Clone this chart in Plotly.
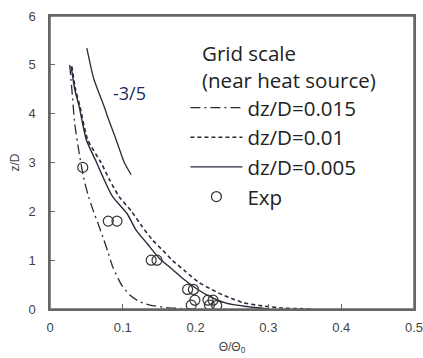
import plotly.graph_objects as go

# --- data ---
dd_x = [0.027, 0.030, 0.034, 0.040, 0.046, 0.052, 0.059, 0.066, 0.0725, 0.080, 0.086, 0.098, 0.110, 0.123, 0.137, 0.160, 0.180, 0.200]
dd_z = [5.0, 4.5, 3.8, 3.2, 2.7, 2.35, 2.03, 1.75, 1.48, 1.15, 0.87, 0.5, 0.28, 0.15, 0.08, 0.03, 0.01, 0.0]

d1_x = [0.030, 0.035, 0.041, 0.052, 0.070, 0.082, 0.095, 0.112, 0.126, 0.141, 0.155, 0.168, 0.186, 0.204, 0.222, 0.237, 0.252, 0.265, 0.288, 0.320, 0.360]
d1_z = [4.97, 4.5, 4.15, 3.46, 3.0, 2.64, 2.3, 2.0, 1.7, 1.41, 1.2, 1.0, 0.77, 0.55, 0.4, 0.29, 0.2, 0.13, 0.07, 0.02, 0.0]

d05_x = [0.029, 0.034, 0.040, 0.050, 0.064, 0.0725, 0.086, 0.106, 0.118, 0.134, 0.150, 0.169, 0.182, 0.198, 0.215, 0.242, 0.270, 0.300]
d05_z = [4.97, 4.5, 4.15, 3.46, 3.0, 2.71, 2.3, 1.95, 1.62, 1.33, 1.04, 0.8, 0.63, 0.45, 0.29, 0.12, 0.05, 0.0]

ref_x = [0.0506, 0.060, 0.075, 0.080, 0.091, 0.102, 0.1115]
ref_z = [5.34, 4.72, 4.12, 3.9, 3.46, 3.0, 2.75]

exp_x = [0.045, 0.080, 0.092, 0.139, 0.147, 0.189, 0.197, 0.199, 0.194, 0.217, 0.224, 0.219, 0.229]
exp_z = [2.9, 1.8, 1.8, 1.0, 1.0, 0.4, 0.4, 0.18, 0.08, 0.18, 0.18, 0.08, 0.07]

x_ticks = [0, 0.1, 0.2, 0.3, 0.4, 0.5]
x_ticktext = ["0", "0.1", "0.2", "0.3", "0.4", "0.5"]
y_ticks = [0, 1, 2, 3, 4, 5, 6]

line_col = "#2a2a3a"
axis_col = "#666666"
tick_font = dict(family="Liberation Sans, Arial, sans-serif", size=13, color="#444444")
leg_font = dict(family="Open Sans, sans-serif", size=20.5, color="#222222")

fig = go.Figure()
fig.add_trace(go.Scatter(x=dd_x, y=dd_z, mode="lines", name="dz/D=0.015",
                         line=dict(color=line_col, width=1.3, dash="10px,4px,2px,4px", shape="spline", smoothing=0.6)))
fig.add_trace(go.Scatter(x=d1_x, y=d1_z, mode="lines", name="dz/D=0.01",
                         line=dict(color=line_col, width=1.6, dash="4px,3px", shape="spline", smoothing=0.6)))
fig.add_trace(go.Scatter(x=d05_x, y=d05_z, mode="lines", name="dz/D=0.005",
                         line=dict(color=line_col, width=1.4, shape="spline", smoothing=0.6)))
fig.add_trace(go.Scatter(x=ref_x, y=ref_z, mode="lines", showlegend=False,
                         line=dict(color=line_col, width=1.3, shape="spline", smoothing=0.6)))
fig.add_trace(go.Scatter(x=exp_x, y=exp_z, mode="markers", name="Exp",
                         marker=dict(symbol="circle-open", size=10, color="#333333", line=dict(width=1.2))))

fig.add_annotation(x=0.109, y=4.43, xref="x", yref="y", text="-3/5", showarrow=False,
                   font=dict(family="Open Sans, sans-serif", size=18, color="#1f2a5c"))
fig.add_annotation(x=0.412, y=0.93, xref="paper", yref="paper", xanchor="left", yanchor="top",
                   text="Grid scale<br>(near heat source)", showarrow=False, align="left",
                   font=leg_font)

# plot frame
fig.add_shape(type="rect", xref="paper", yref="paper", x0=0, x1=1, y0=0, y1=1,
              line=dict(color=axis_col, width=1.5), layer="above")

fig.update_layout(
    width=423, height=358,
    margin=dict(l=50, r=9, t=16, b=49),
    paper_bgcolor="white", plot_bgcolor="white",
    showlegend=True,
    legend=dict(x=0.372, y=0.755, xanchor="left", yanchor="top", font=leg_font,
                bgcolor="rgba(0,0,0,0)", itemwidth=52, tracegroupgap=0),
)
fig.update_xaxes(range=[0, 0.5], tickvals=x_ticks, ticktext=x_ticktext, ticks="inside", ticklen=5,
                 tickcolor=axis_col, showline=True, linecolor=axis_col, linewidth=1.5, mirror=True,
                 showgrid=False, zeroline=False, tickfont=tick_font, ticklabelstandoff=6, automargin=False,
                 ticklabeloverflow="allow",
                 title=dict(text="Θ/Θ<sub>0</sub>", font=dict(family="Liberation Sans, Arial", size=12, color="#444444"), standoff=8))
fig.update_yaxes(range=[0, 6], tickvals=y_ticks, ticks="inside", ticklen=5,
                 tickcolor=axis_col, showline=True, linecolor=axis_col, linewidth=1.5, mirror=True,
                 showgrid=False, zeroline=False, tickfont=tick_font, ticklabelstandoff=10, automargin=False,
                 ticklabeloverflow="allow",
                 title=dict(text="z/D", font=dict(family="Liberation Sans, Arial", size=12, color="#444444"), standoff=6))

fig.write_html("out.html")
